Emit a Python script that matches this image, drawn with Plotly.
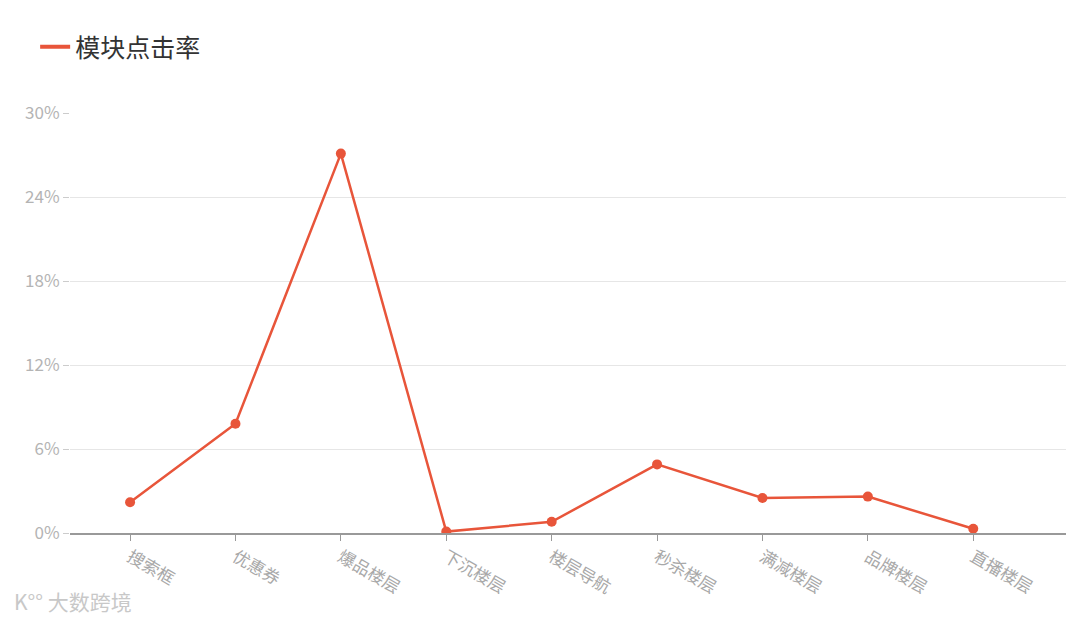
import plotly.graph_objects as go

# module click-through rate per page block (%)
modules = ["搜索框", "优惠券", "爆品楼层", "下沉楼层", "楼层导航",
           "秒杀楼层", "满减楼层", "品牌楼层", "直播楼层"]
click_rate = [2.2, 7.8, 27.1, 0.1, 0.8, 4.9, 2.5, 2.6, 0.3]
y_ticks = [0, 6, 12, 18, 24, 30]
y_tick_labels = [f"{v}%" for v in y_ticks]

LINE_COLOR = "#E8553A"
FONT = "Noto Sans CJK SC"

fig = go.Figure()
fig.add_trace(
    go.Scatter(
        x=modules,
        y=click_rate,
        mode="lines+markers",
        name="模块点击率",
        line=dict(color=LINE_COLOR, width=2.5),
        marker=dict(color=LINE_COLOR, size=10),
        showlegend=False,
    )
)
# legend entry drawn as a short line only
fig.add_trace(
    go.Scatter(
        x=[None],
        y=[None],
        mode="lines",
        name="模块点击率",
        line=dict(color=LINE_COLOR, width=4),
    )
)

# page body has an 8px margin, so the figure is 16px smaller than the window
fig.update_layout(
    width=1064,
    height=608,
    margin=dict(l=62, r=6, t=105, b=83, autoexpand=False),
    plot_bgcolor="white",
    paper_bgcolor="white",
    font=dict(family=FONT, color="#aaaaaa"),
    legend=dict(
        x=-0.035,
        y=1.157,
        xanchor="left",
        yanchor="middle",
        font=dict(size=25, color="#333333"),
        itemwidth=30,
    ),
    annotations=[
        dict(
            text="K°° 大数跨境",
            xref="paper",
            yref="paper",
            x=-0.058,
            y=-0.163,
            xanchor="left",
            yanchor="middle",
            showarrow=False,
            font=dict(size=21, color="#c8c8c8", family=FONT),
        )
    ],
)

fig.update_xaxes(
    type="category",
    range=[-0.57, 8.88],
    automargin=False,
    showgrid=False,
    showline=True,
    linecolor="#999999",
    linewidth=1.5,
    ticks="outside",
    ticklen=6,
    tickcolor="#999999",
    tickangle=30,
    tickfont=dict(size=17, color="#a8a8a8"),
    zeroline=False,
)
fig.update_yaxes(
    range=[0, 30],
    automargin=False,
    tickvals=y_ticks,
    ticktext=y_tick_labels,
    showgrid=True,
    gridcolor="#e6e6e6",
    gridwidth=1,
    showline=False,
    ticks="outside",
    ticklen=6,
    tickcolor="#cccccc",
    tickfont=dict(size=17, color="#b4b4b4"),
    zeroline=False,
)

fig.write_html("out.html")
